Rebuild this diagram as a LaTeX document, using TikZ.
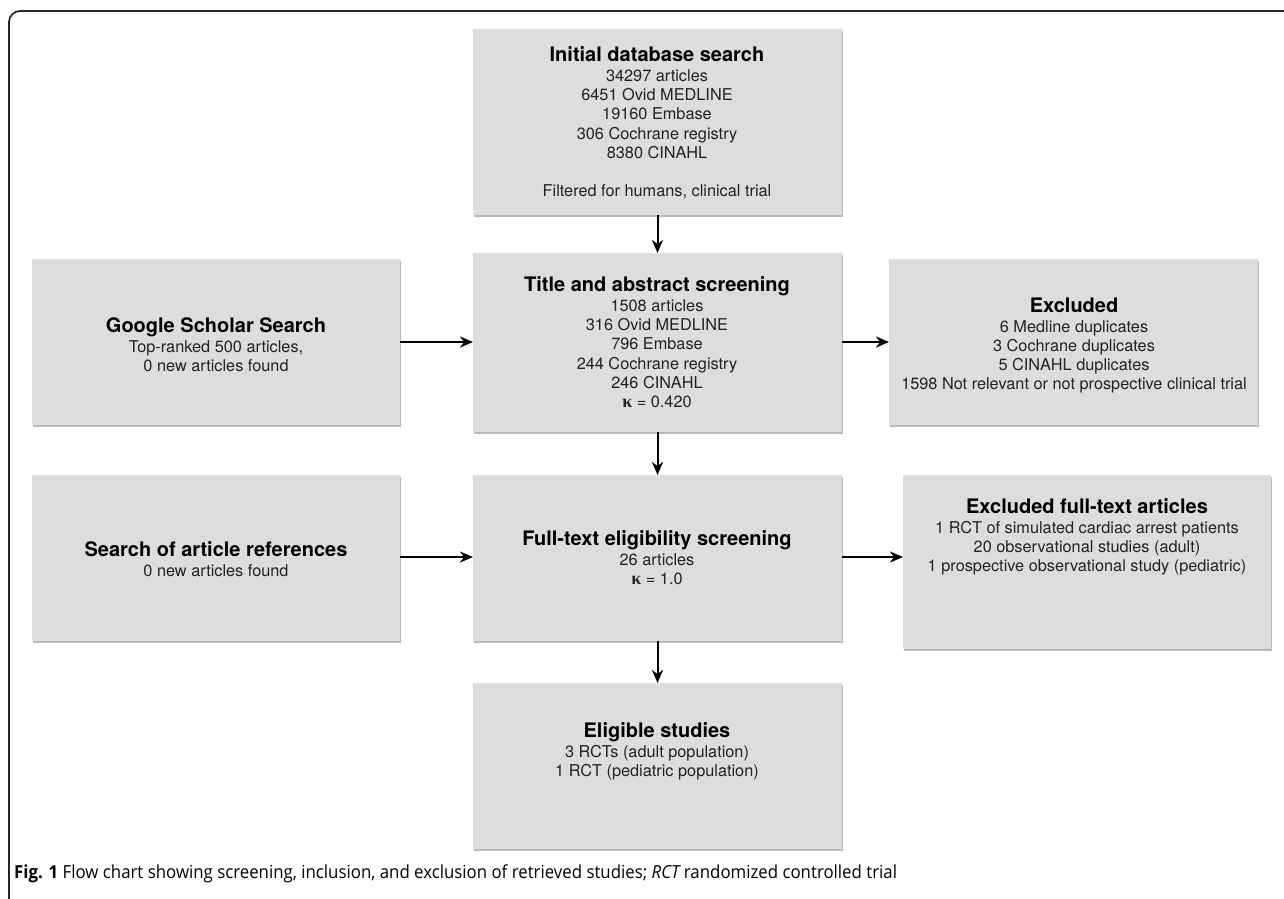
\documentclass[tikz,border=0pt]{standalone}
\usepackage{fontspec}
\setmainfont{TeX Gyre Heros}
\newfontfamily\capfont[FakeStretch=0.935]{Open Sans}
\newfontfamily\kfont{Liberation Serif}
\newcommand\hdfont{\fontsize{20}{22}\selectfont\bfseries\color{black}}
\newcommand\kap{{\kfont\bfseries\fontsize{18}{19.1}\selectfont κ}}
\usetikzlibrary{arrows.meta,shadows}
\definecolor{boxgray}{HTML}{DDDDDD}
\definecolor{txt}{HTML}{222222}
\begin{document}
\begin{tikzpicture}[x=1pt,y=-1pt,
  box/.style={fill=boxgray, draw=none, inner sep=0pt, outer sep=0pt, anchor=north west,
    drop shadow={shadow xshift=0.8pt, shadow yshift=-1.6pt, fill=black!45, opacity=0.6}},
  lbl/.style={align=center, text=txt, inner sep=0pt, anchor=north, font=\fontsize{16.3}{19.1}\selectfont},
  arr/.style={line width=2pt, -{Stealth[length=13pt,width=11pt,inset=4pt]}}]
\useasboundingbox (0,0) rectangle (1284,898);
\fill[white] (0,0) rectangle (1284,898);
% frame
\draw[line width=1.7pt, black!85, rounded corners=11pt] (1290,11) -- (9,11) -- (9,905);
% boxes
\node[box, minimum width=369pt, minimum height=186pt] (init) at (473,29) {};
\node[box, minimum width=369pt, minimum height=179pt] (title) at (473,253) {};
\node[box, minimum width=369pt, minimum height=166pt] (full) at (473,475) {};
\node[box, minimum width=369pt, minimum height=166pt] (elig) at (473,683) {};
\node[box, minimum width=368pt, minimum height=166pt] (google) at (32,259) {};
\node[box, minimum width=368pt, minimum height=166pt] (search) at (32,475) {};
\node[box, minimum width=369pt, minimum height=166pt] (excl) at (889,259) {};
\node[box, minimum width=368pt, minimum height=174pt] (exclft) at (903,475) {};
% texts
\node[lbl] (tinit) at (657,46.5) {{\hdfont Initial database search}\\[1pt]
34297 articles\\6451 Ovid MEDLINE\\19160 Embase\\306 Cochrane registry\\8380 CINAHL\\[19.1pt]
Filtered for humans, clinical trial};
\node[lbl] (ttitle) at (657,276.5) {{\hdfont Title and abstract screening}\\[1pt]
1508 articles\\316 Ovid MEDLINE\\796 Embase\\244 Cochrane registry\\246 CINAHL\\
\kap{} = 0.420};
\node[lbl] (tfull) at (657,530.5) {{\hdfont Full-text eligibility screening}\\[1pt]
26 articles\\\kap{} = 1.0};
\node[lbl] (telig) at (657,722.5) {{\hdfont Eligible studies}\\[1pt]
3 RCTs (adult population)\\1 RCT (pediatric population)};
\node[lbl] (tgoogle) at (216,317.5) {{\hdfont Google Scholar Search}\\[1pt]
Top-ranked 500 articles,\\0 new articles found};
\node[lbl] (tsearch) at (216,541.5) {{\hdfont Search of article references}\\[1pt]
0 new articles found};
\node[lbl] (texcl) at (1074,297.5) {{\hdfont Excluded}\\[1pt]
6 Medline duplicates\\3 Cochrane duplicates\\5 CINAHL duplicates\\
1598 Not relevant or not prospective clinical trial};
\node[lbl] (texclft) at (1087,498.5) {{\hdfont Excluded full-text articles}\\[1pt]
1 RCT of simulated cardiac arrest patients\\20 observational studies (adult)\\
1 prospective observational study (pediatric)};
% arrows
\draw[arr] (init.south) -- (title.north);
\draw[arr] (title.south) -- (full.north);
\draw[arr] (full.south) -- (elig.north);
\draw[arr] (google.east |- 0,342) -- (title.west |- 0,342);
\draw[arr] (title.east |- 0,342) -- (excl.west |- 0,342);
\draw[arr] (search.east |- 0,557) -- (full.west |- 0,557);
\draw[arr] (full.east |- 0,557) -- (exclft.west |- 0,557);
% caption
\node[anchor=base west, inner sep=0pt, font=\capfont\fontsize{18}{20}\selectfont] (cap) at (14,878)
  {{\bfseries Fig. 1} Flow chart showing screening, inclusion, and exclusion of retrieved studies; {\itshape RCT} randomized controlled trial};
\end{tikzpicture}
\end{document}
